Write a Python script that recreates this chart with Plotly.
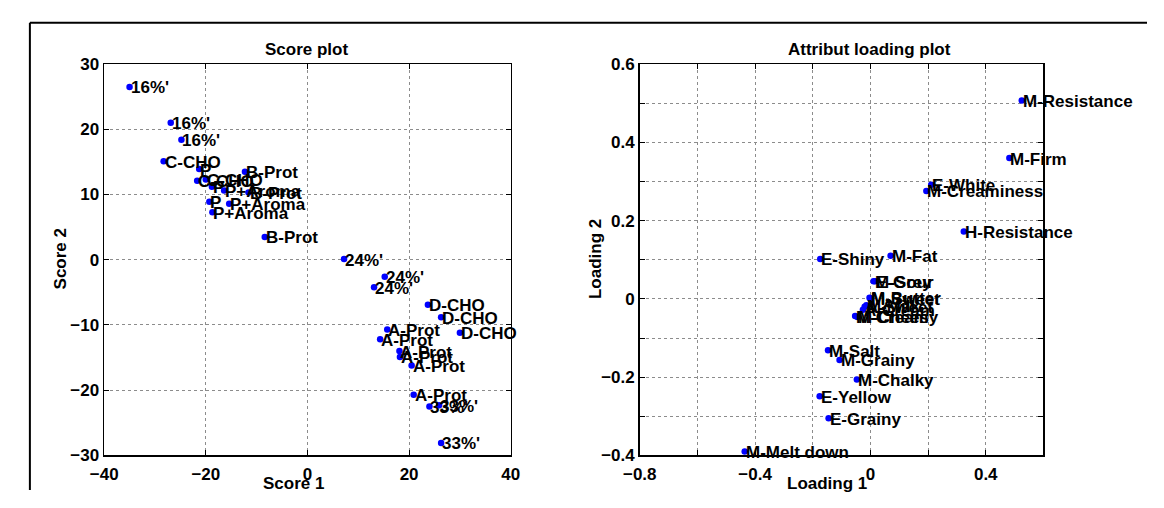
import plotly.graph_objects as go

# The page keeps the browser's default 8 px body margin, so the figure itself
# is sized so that figure + margins fill the 1164x508 window exactly.
PAGE_MARGIN = 8
W, H = 1164 - 2 * PAGE_MARGIN, 508 - 2 * PAGE_MARGIN

# ---- Score plot data ----
score_labels = ["16%'", "16%'", "16%'",
                "C-CHO", "C-CHO", "C-CHO",
                "P", "P", "P",
                "P+Aroma", "P+Aroma", "P+Aroma",
                "B-Prot", "B-Prot", "B-Prot",
                "24%'", "24%'", "24%'",
                "D-CHO", "D-CHO", "D-CHO",
                "A-Prot", "A-Prot", "A-Prot", "A-Prot", "A-Prot", "A-Prot",
                "33%'", "33%'", "33%'"]
score_x = [-35.0, -26.9, -24.8,
           -28.3, -21.7, -20.0,
           -21.3, -18.8, -19.3,
           -16.4, -15.4, -18.7,
           -12.3, -11.6, -8.4,
           7.2, 15.2, 13.1,
           23.7, 26.3, 30.0,
           15.7, 14.3, 18.1, 18.2, 20.5, 20.9,
           24.0, 25.9, 26.3]
score_y = [26.5, 21.0, 18.4,
           15.1, 12.1, 12.3,
           13.9, 11.2, 8.9,
           10.6, 8.6, 7.3,
           13.5, 10.3, 3.5,
           0.1, -2.6, -4.2,
           -6.9, -8.8, -11.2,
           -10.7, -12.2, -14.0, -14.9, -16.2, -20.7,
           -22.5, -22.3, -28.1]

# ---- Loading plot data ----
load_labels = ["M-Resistance", "M-Firm", "E-White", "M-Creaminess", "H-Resistance",
               "E-Shiny", "M-Fat", "M-Sour", "E-Grey", "M-Butter", "M-Sweet",
               "A-Sweet", "M-Milk", "A-Cream", "M-Cream", "M-Cheesy",
               "M-Salt", "M-Grainy", "M-Chalky", "E-Yellow", "E-Grainy", "M-Melt down"]
load_x = [0.525, 0.482, 0.211, 0.194, 0.324,
          -0.174, 0.070, 0.011, 0.016, -0.003, 0.000,
          -0.020, -0.014, -0.026, -0.053, -0.045,
          -0.147, -0.107, -0.047, -0.176, -0.145, -0.436]
load_y = [0.507, 0.360, 0.292, 0.276, 0.172,
          0.102, 0.110, 0.045, 0.045, 0.003, 0.000,
          -0.020, -0.016, -0.028, -0.044, -0.046,
          -0.131, -0.156, -0.206, -0.249, -0.305, -0.390]

FONT = "Liberation Sans, Arial, Helvetica, sans-serif"
FS = 17


def px_x(p):
    """window pixel -> paper fraction"""
    return (p - PAGE_MARGIN) / W


def px_y(p):
    return 1 - (p - PAGE_MARGIN) / H


tf = dict(family=FONT, size=FS, color="black", weight="bold")

fig = go.Figure()
fig.add_trace(go.Scatter(
    x=score_x, y=score_y, mode="markers", cliponaxis=False,
    marker=dict(color="#0000FF", size=6.5),
    xaxis="x", yaxis="y", showlegend=False, hoverinfo="skip"))
fig.add_trace(go.Scatter(
    x=load_x, y=load_y, mode="markers", cliponaxis=False,
    marker=dict(color="#0000FF", size=6.5),
    xaxis="x2", yaxis="y2", showlegend=False, hoverinfo="skip"))

for lab, xv, yv in zip(score_labels, score_x, score_y):
    fig.add_annotation(x=xv, y=yv, xref="x", yref="y", text=lab, showarrow=False,
                       xanchor="left", yanchor="middle", yshift=-1,
                       font=tf, borderpad=0)
for lab, xv, yv in zip(load_labels, load_x, load_y):
    fig.add_annotation(x=xv, y=yv, xref="x2", yref="y2", text=lab, showarrow=False,
                       xanchor="left", yanchor="middle", yshift=-1,
                       font=tf, borderpad=0)

ax_common = dict(
    showline=True, linecolor="black", linewidth=1.6, mirror="ticks",
    ticks="inside", ticklen=5, tickcolor="black",
    showgrid=True, gridcolor="#8c8c8c", griddash="dot", gridwidth=1,
    zeroline=False,
    tickfont=dict(family=FONT, size=FS, color="black", weight="bold"),
)

y_dom = [px_y(464), px_y(57)]
fig.update_layout(
    width=W, height=H,
    margin=dict(l=0, r=0, t=0, b=0),
    paper_bgcolor="white", plot_bgcolor="white",
    xaxis=dict(domain=[px_x(89), px_x(505)], range=[-40, 40],
               tickmode="linear", tick0=-40, dtick=20, anchor="y",
               ticklabelstandoff=3, **ax_common),
    yaxis=dict(domain=y_dom, range=[-30, 30],
               tickmode="linear", tick0=-30, dtick=10, anchor="x",
               **ax_common),
    xaxis2=dict(domain=[px_x(637), px_x(1050)], range=[-0.8, 0.6],
                tickmode="linear", tick0=-0.8, dtick=0.4, anchor="y2",
                tickformat=".1~f", ticklabelstandoff=3,
                minor=dict(dtick=0.2, tick0=-0.8, showgrid=True, gridcolor="#8c8c8c",
                           griddash="dot", gridwidth=1, ticks="inside", ticklen=5,
                           tickcolor="black"),
                **ax_common),
    yaxis2=dict(domain=y_dom, range=[-0.4, 0.6],
                tickmode="linear", tick0=-0.4, dtick=0.2, anchor="x2",
                tickformat=".1~f",
                minor=dict(dtick=0.1, tick0=-0.4, showgrid=True, gridcolor="#8c8c8c",
                           griddash="dot", gridwidth=1, ticks="inside", ticklen=5,
                           tickcolor="black"),
                **ax_common),
)

annots = [
    dict(text="Score plot", x=px_x(296), y=px_y(42)),
    dict(text="Attribut loading plot", x=px_x(872), y=px_y(42)),
    dict(text="Score 1", x=px_x(283), y=px_y(493)),
    dict(text="Loading 1", x=px_x(829), y=px_y(493)),
    dict(text="Score 2", x=px_x(44), y=px_y(260), textangle=-90),
    dict(text="Loading 2", x=px_x(591), y=px_y(260), textangle=-90),
]
for a in annots:
    fig.add_annotation(xref="paper", yref="paper", showarrow=False,
                       xanchor="center", yanchor="middle", font=tf, **a)

# outer frame (top and left edges)
fig.add_shape(type="line", xref="paper", yref="paper",
              x0=px_x(13), x1=1.0, y0=px_y(14), y1=px_y(14),
              line=dict(color="black", width=2), layer="above")
fig.add_shape(type="line", xref="paper", yref="paper",
              x0=px_x(13), x1=px_x(13), y0=0.0, y1=px_y(14),
              line=dict(color="black", width=2), layer="above")

fig.write_html("out.html", config={"displayModeBar": False, "staticPlot": True})
